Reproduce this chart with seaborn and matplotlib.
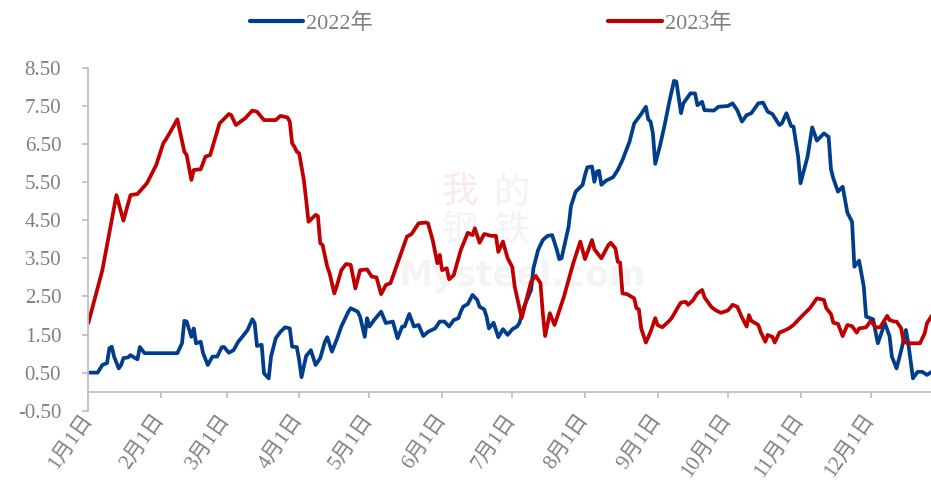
import numpy as np
import pandas as pd
import matplotlib
matplotlib.use("Agg")
import matplotlib.pyplot as plt
import seaborn as sns

# day offsets from 1月1日 and values
days_2022 = [0, 4, 6, 8, 9, 10, 11, 13, 14, 15,
             17, 18, 20, 21, 22, 24, 38, 40, 41, 42,
             44, 45, 46, 48, 49, 51, 53, 55, 57, 58,
             60, 62, 64, 66, 68, 70, 71, 72, 74, 75,
             77, 78, 80, 82, 84, 86, 87, 89, 90, 91,
             93, 94, 95, 97, 99, 101, 102, 104, 106, 108,
             111, 112, 115, 116, 118, 119, 120, 122, 125, 127,
             130, 132, 134, 135, 137, 139, 141, 143, 145, 148,
             150, 152, 154, 156, 158, 159, 160, 162, 164, 166,
             167, 169, 170, 171, 173, 175, 177, 179, 181, 183,
             184, 186, 189, 190, 192, 194, 196, 198, 200, 201,
             202, 205, 206, 208, 211, 212, 213, 215, 216, 217,
             218, 219, 221, 224, 226, 228, 231, 233, 236, 238,
             239, 240, 241, 242, 244, 246, 248, 250, 251, 253,
             254, 257, 259, 260, 262, 263, 267, 269, 273, 275,
             277, 279, 281, 283, 286, 288, 290, 292, 295, 296,
             298, 300, 301, 303, 304, 307, 309, 311, 314, 316,
             317, 318, 320, 322, 324, 326, 327, 329, 331, 332,
             335, 337, 340, 342, 343, 345, 347, 349, 350, 352,
             354, 356, 358, 360]
vals_2022 = [0.50, 0.50, 0.70, 0.75, 1.14, 1.18, 0.92, 0.61, 0.70, 0.88,
             0.90, 0.96, 0.88, 0.85, 1.17, 1.01, 1.01, 1.27, 1.86, 1.84,
             1.44, 1.66, 1.27, 1.31, 1.01, 0.70, 0.92, 0.92, 1.17, 1.17,
             1.02, 1.09, 1.31, 1.46, 1.62, 1.90, 1.80, 1.20, 1.23, 0.48,
             0.35, 0.92, 1.40, 1.57, 1.69, 1.66, 1.18, 1.17, 0.83, 0.38,
             0.94, 1.01, 1.09, 0.70, 0.88, 1.31, 1.43, 1.05, 1.36, 1.71,
             2.10, 2.19, 2.10, 1.97, 1.44, 1.93, 1.71, 1.88, 2.10, 1.80,
             1.84, 1.40, 1.71, 1.71, 2.04, 1.71, 1.75, 1.46, 1.57, 1.66,
             1.84, 1.84, 1.71, 1.88, 1.93, 2.10, 2.23, 2.30, 2.54, 2.41,
             2.23, 2.16, 1.97, 1.66, 1.81, 1.43, 1.64, 1.49, 1.64, 1.71,
             1.80, 2.23, 2.67, 3.24, 3.72, 3.98, 4.09, 4.11, 3.72, 3.48,
             3.50, 4.33, 4.86, 5.25, 5.43, 5.69, 5.89, 5.91, 5.51, 5.77,
             5.80, 5.43, 5.54, 5.63, 5.82, 6.08, 6.56, 7.04, 7.29, 7.48,
             7.15, 7.09, 6.78, 5.98, 6.45, 7.00, 7.61, 8.16, 8.14, 7.31,
             7.57, 7.83, 7.83, 7.52, 7.61, 7.39, 7.38, 7.48, 7.50, 7.57,
             7.39, 7.09, 7.26, 7.31, 7.57, 7.59, 7.35, 7.29, 7.00, 7.04,
             7.31, 6.97, 6.96, 6.17, 5.47, 6.17, 6.94, 6.59, 6.78, 6.69,
             5.84, 5.60, 5.25, 5.38, 4.70, 4.46, 3.28, 3.44, 2.76, 1.97,
             1.90, 1.27, 1.80, 1.46, 0.92, 0.61, 1.09, 1.62, 1.27, 0.35,
             0.52, 0.52, 0.44, 0.52]

days_2023 = [0, 6, 12, 15, 18, 21, 25, 29, 32, 33,
             35, 38, 39, 41, 42, 44, 45, 48, 50, 52,
             56, 60, 61, 63, 67, 70, 72, 75, 80, 82,
             85, 86, 87, 88, 89, 90, 92, 93, 94, 97,
             98, 99, 100, 102, 103, 105, 106, 108, 110, 112,
             114, 116, 119, 121, 123, 125, 127, 129, 132, 136,
             138, 141, 144, 145, 147, 149, 150, 151, 153, 154,
             156, 159, 162, 164, 165, 167, 169, 172, 174, 175,
             177, 179, 181, 182, 185, 187, 189, 191, 193, 194,
             195, 197, 199, 203, 207, 210, 212, 215, 216, 219,
             222, 223, 225, 226, 227, 228, 230, 233, 234, 235,
             236, 238, 240, 242, 243, 245, 248, 249, 252, 253,
             255, 256, 258, 260, 262, 263, 264, 266, 268, 270,
             273, 275, 277, 279, 281, 282, 283, 286, 287, 289,
             290, 292, 293, 295, 297, 299, 301, 303, 306, 308,
             311, 314, 315, 317, 318, 320, 322, 324, 326, 328,
             329, 332, 334, 336, 338, 341, 342, 344, 345, 347,
             348, 350, 355, 357, 358, 360]
vals_2023 = [1.80, 3.19, 5.16, 4.49, 5.16, 5.19, 5.47, 5.95, 6.52, 6.61,
             6.82, 7.15, 6.87, 6.30, 6.21, 5.56, 5.82, 5.84, 6.17, 6.21,
             7.04, 7.29, 7.26, 7.00, 7.18, 7.38, 7.35, 7.13, 7.13, 7.24,
             7.20, 7.09, 6.52, 6.43, 6.30, 6.26, 5.56, 5.03, 4.46, 4.64,
             4.61, 3.90, 3.85, 3.28, 3.11, 2.58, 2.76, 3.19, 3.35, 3.33,
             2.71, 3.19, 3.21, 3.02, 3.00, 2.56, 2.80, 2.85, 3.37, 4.07,
             4.14, 4.42, 4.44, 4.42, 3.98, 3.37, 3.59, 3.19, 3.24, 2.95,
             3.06, 3.72, 4.17, 4.11, 4.29, 3.91, 4.14, 4.09, 4.09, 3.67,
             3.94, 3.50, 3.27, 2.76, 1.93, 2.41, 2.89, 3.04, 2.85, 2.06,
             1.46, 2.06, 1.75, 2.49, 3.37, 3.94, 3.48, 3.98, 3.74, 3.50,
             3.85, 3.91, 3.76, 3.41, 3.39, 2.58, 2.56, 2.45, 2.19, 2.16,
             1.66, 1.29, 1.57, 1.93, 1.75, 1.69, 1.86, 1.93, 2.25, 2.34,
             2.36, 2.28, 2.39, 2.58, 2.67, 2.48, 2.39, 2.22, 2.13, 2.07,
             2.13, 2.28, 2.23, 1.95, 1.71, 2.01, 1.86, 1.75, 1.57, 1.31,
             1.49, 1.44, 1.29, 1.55, 1.60, 1.66, 1.75, 1.88, 2.07, 2.19,
             2.45, 2.41, 2.19, 2.04, 1.81, 1.78, 1.46, 1.75, 1.72, 1.55,
             1.66, 1.69, 1.86, 1.69, 1.69, 1.99, 1.88, 1.84, 1.84, 1.66,
             1.31, 1.27, 1.27, 1.53, 1.80, 1.99]

series_names = ["2022年", "2023年"]
series_colors = ["#003d8c", "#c00000"]
month_labels = [f"{m}月1日" for m in range(1, 13)]
y_ticks = np.arange(-0.5, 9.0, 1.0)

base = pd.Timestamp("2023-01-01")
df = pd.concat([
    pd.DataFrame({"date": base + pd.to_timedelta(days_2022, unit="D"),
                  "value": vals_2022, "year": series_names[0]}),
    pd.DataFrame({"date": base + pd.to_timedelta(days_2023, unit="D"),
                  "value": vals_2023, "year": series_names[1]}),
], ignore_index=True)

sns.set_style("white")
plt.rcParams["font.family"] = ["Liberation Serif", "Noto Sans CJK SC"]
grey = "#7f7f7f"
axis_grey = "#c0c0c0"

fig = plt.figure(figsize=(9.31, 4.84), dpi=100)
ax = fig.add_axes([88.3 / 931, 73.3 / 484, 1 - 88.3 / 931, 342.8 / 484])

# faint watermark, kept under the axes (zorder below the axes)
wm = dict(fontsize=26, ha="center", va="center", zorder=-1)
fig.text(460 / 931, 1 - 194 / 484, "我", color="#fbe9e9", **wm)
fig.text(512 / 931, 1 - 194 / 484, "的", color="#f1f3f7", **wm)
fig.text(460 / 931, 1 - 232 / 484, "钢", color="#f1f3f7", **wm)
fig.text(512 / 931, 1 - 232 / 484, "铁", color="#f1f3f7", **wm)
fig.text(522 / 931, 1 - 276 / 484, "Mysteel.com", fontsize=25, fontweight="bold", family="DejaVu Sans",
         color="#f4f4f4", ha="center", va="center", zorder=-1)
ax.patch.set_alpha(0)

sns.lineplot(data=df, x="date", y="value", hue="year",
             palette=dict(zip(series_names, series_colors)),
             linewidth=2.7, ax=ax)
for line in ax.lines:
    line.set_solid_joinstyle("round")
    line.set_solid_capstyle("round")

handles, labels = ax.get_legend_handles_labels()
ax.get_legend().remove()
for h in handles:
    h.set_linewidth(3.0)
fig.legend(handles, labels, loc="center", bbox_to_anchor=(0.527, 0.952), ncol=2,
           frameon=False, fontsize=16, labelcolor=grey, handlelength=2.4,
           handletextpad=0.15, columnspacing=10.6)

# axis lines first: moving a spine resets the tick styling
for side in ["top", "right"]:
    ax.spines[side].set_visible(False)
ax.spines["bottom"].set_position(("data", 0))
for side in ["bottom", "left"]:
    ax.spines[side].set_color(axis_grey)
    ax.spines[side].set_linewidth(1.3)

month_ticks = pd.date_range(base, periods=12, freq="MS")
ax.set_xlim(base, base + pd.Timedelta(days=359.7))
ax.set_xticks(month_ticks)
ax.set_xticklabels(month_labels)
ax.set_ylim(-0.5, 8.5)
ax.set_yticks(y_ticks)
ax.set_yticklabels([f"{v:.2f}" for v in y_ticks])
ax.set_xlabel("")
ax.set_ylabel("")

ax.tick_params(axis="x", bottom=True, direction="out", length=4.5, width=1.3,
               color=axis_grey, pad=13, labelsize=15, labelcolor=grey)
ax.tick_params(axis="y", left=True, direction="out", length=4.5, width=1.3,
               color=axis_grey, pad=15, labelsize=15, labelcolor=grey)
plt.setp(ax.get_xticklabels(), rotation=55, ha="right", va="center", rotation_mode="anchor")

fig.savefig("out.png", dpi=100)
